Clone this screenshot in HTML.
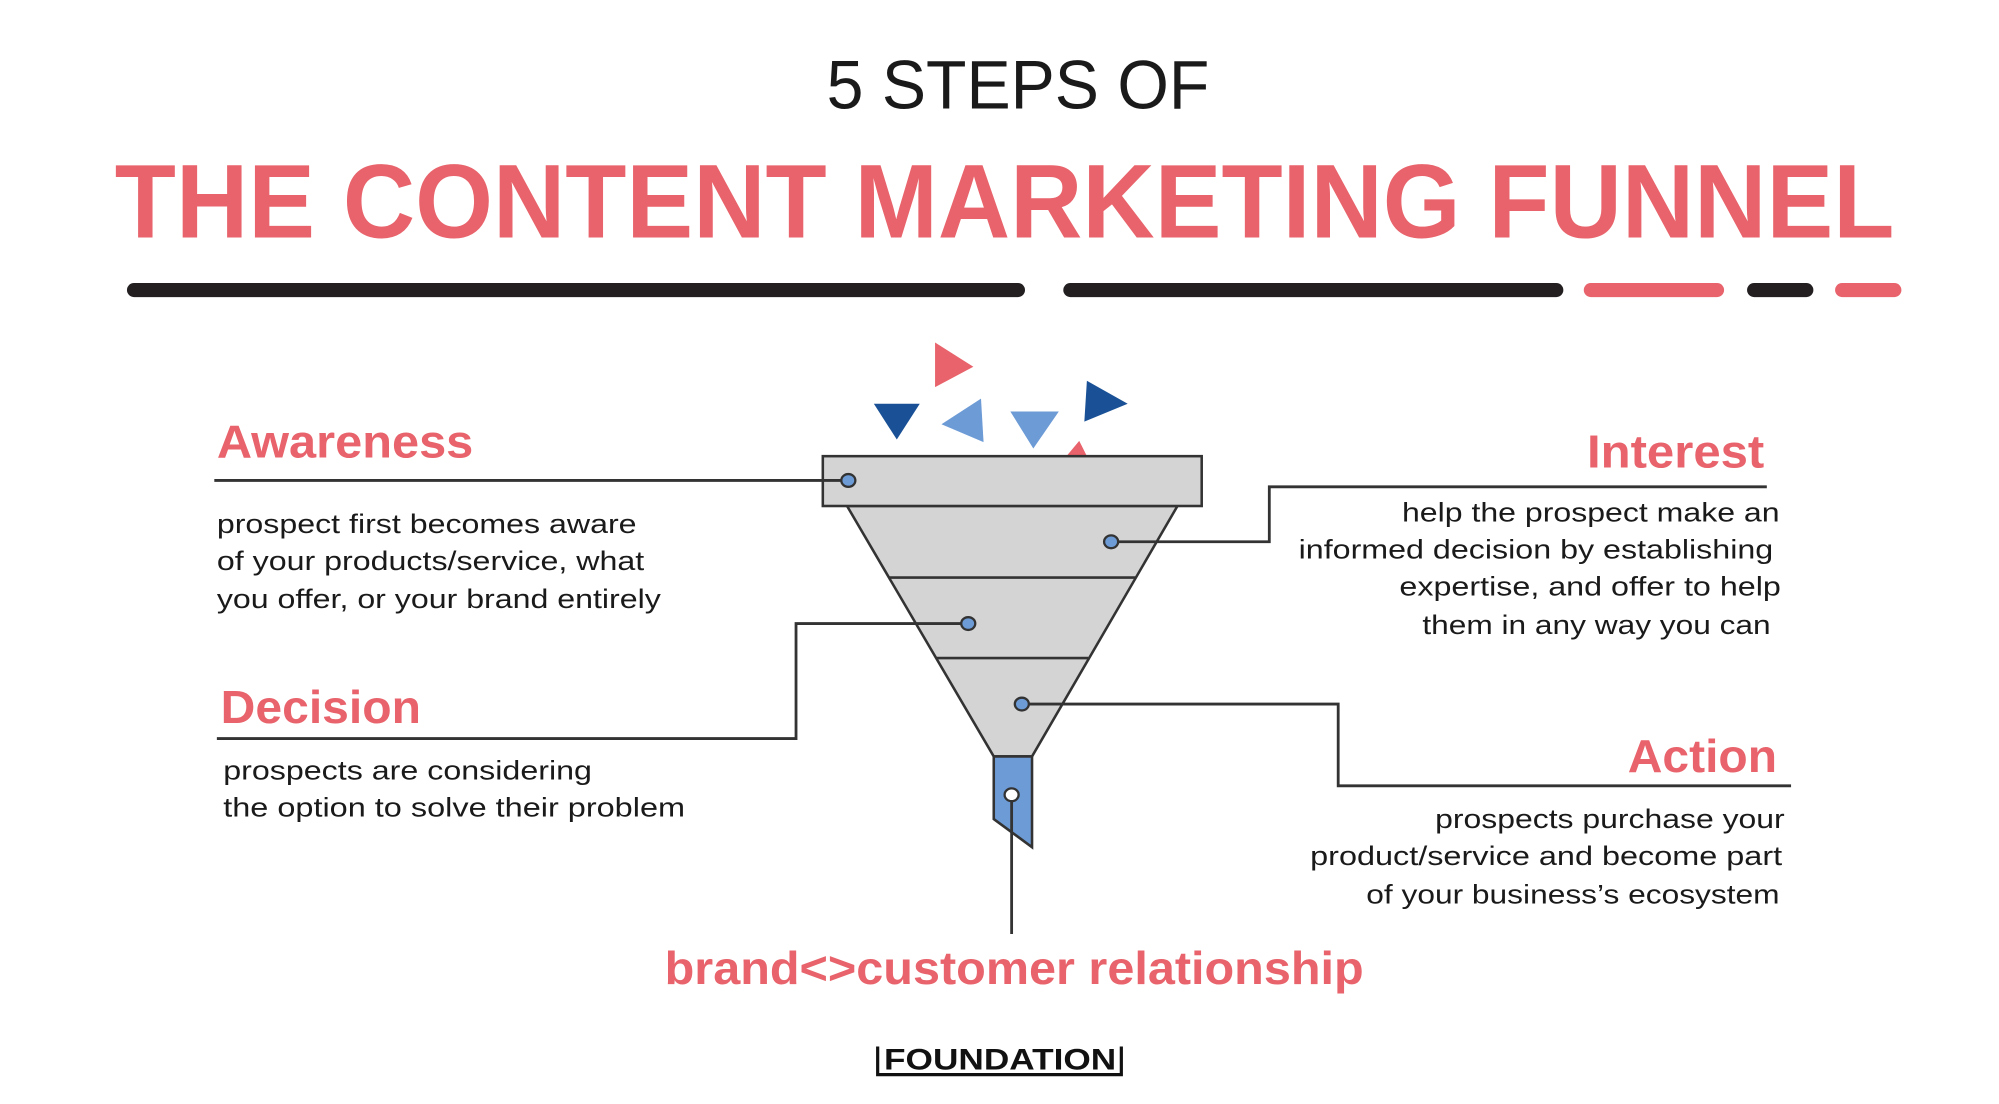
<!DOCTYPE html>
<html><head><meta charset="utf-8"><style>
html,body{margin:0;padding:0;background:#fff;}
svg{display:block;}
text{font-family:"Liberation Sans",sans-serif;}
.h{fill:#e8636b;font-weight:bold;font-size:36px;}
.d{fill:#1a1a1a;font-size:21px;}
</style></head><body>
<svg width="1999" height="1104" viewBox="0 0 1567 864" preserveAspectRatio="none" xmlns="http://www.w3.org/2000/svg">
<rect width="1567" height="864" fill="#fff"/>
<text x="798" y="85" text-anchor="middle" font-size="54" fill="#1a1a1a" textLength="300" lengthAdjust="spacingAndGlyphs">5 STEPS OF</text>
<text x="90" y="186" font-size="82" font-weight="bold" fill="#e8636b" textLength="1395" lengthAdjust="spacingAndGlyphs">THE CONTENT MARKETING FUNNEL</text>
<g stroke-linecap="round" stroke-width="11">
<line x1="105" y1="227" x2="798" y2="227" stroke="#231f20"/>
<line x1="839" y1="227" x2="1220" y2="227" stroke="#231f20"/>
<line x1="1247" y1="227" x2="1346" y2="227" stroke="#e8636b"/>
<line x1="1375" y1="227" x2="1416" y2="227" stroke="#231f20"/>
<line x1="1444" y1="227" x2="1485" y2="227" stroke="#e8636b"/>
</g>
<!-- triangles -->
<polygon points="733,268 733,303 763,287" fill="#e8636b"/>
<polygon points="685,316 721,316 703,344" fill="#1a5196"/>
<polygon points="738,332 769,312 771,346" fill="#6d9bd6"/>
<polygon points="792,322 830,322 810,351" fill="#6d9bd6"/>
<polygon points="852,298 884,316 850,330" fill="#1a5196"/>
<polygon points="836,357 846,345 852,357" fill="#e8636b"/>
<!-- funnel -->
<polygon points="664,396 923,396 809,592 779,592" fill="#d4d4d4" stroke="#333" stroke-width="2"/>
<rect x="645" y="357" width="297" height="39" fill="#d4d4d4" stroke="#333" stroke-width="2"/>
<line x1="697" y1="452" x2="890" y2="452" stroke="#333" stroke-width="2"/>
<line x1="734" y1="515" x2="853" y2="515" stroke="#333" stroke-width="2"/>
<polygon points="779,592 809,592 809,663 779,641" fill="#6d9bd6" stroke="#333" stroke-width="2"/>
<!-- connectors -->
<g fill="none" stroke="#333" stroke-width="2.2">
<polyline points="168,376 665,376"/>
<polyline points="871,424 995,424 995,381 1385,381"/>
<polyline points="170,578 624,578 624,488 759,488"/>
<polyline points="801,551 1049,551 1049,615 1404,615"/>
<line x1="793" y1="622" x2="793" y2="731"/>
</g>
<g fill="#6d9bd6" stroke="#333" stroke-width="1.8">
<ellipse cx="665" cy="376" rx="5.5" ry="5"/>
<ellipse cx="871" cy="424" rx="5.5" ry="5"/>
<ellipse cx="759" cy="488" rx="5.5" ry="5"/>
<ellipse cx="801" cy="551" rx="5.5" ry="5"/>
<ellipse cx="793" cy="622" rx="5.5" ry="5" fill="#fff"/>
</g>
<!-- Awareness -->
<text class="h" x="170" y="358" textLength="201" lengthAdjust="spacingAndGlyphs">Awareness</text>
<text class="d" x="170" y="417" textLength="329" lengthAdjust="spacingAndGlyphs">prospect first becomes aware</text>
<text class="d" x="170" y="446" textLength="335" lengthAdjust="spacingAndGlyphs">of your products/service, what</text>
<text class="d" x="170" y="476" textLength="348" lengthAdjust="spacingAndGlyphs">you offer, or your brand entirely</text>
<!-- Interest -->
<text class="h" x="1244" y="366" textLength="139" lengthAdjust="spacingAndGlyphs">Interest</text>
<text class="d" x="1099" y="408" textLength="296" lengthAdjust="spacingAndGlyphs">help the prospect make an</text>
<text class="d" x="1018" y="437" textLength="372" lengthAdjust="spacingAndGlyphs">informed decision by establishing</text>
<text class="d" x="1097" y="466" textLength="299" lengthAdjust="spacingAndGlyphs">expertise, and offer to help</text>
<text class="d" x="1115" y="496" textLength="273" lengthAdjust="spacingAndGlyphs">them in any way you can</text>
<!-- Decision -->
<text class="h" x="173" y="566" textLength="157" lengthAdjust="spacingAndGlyphs">Decision</text>
<text class="d" x="175" y="610" textLength="289" lengthAdjust="spacingAndGlyphs">prospects are considering</text>
<text class="d" x="175" y="639" textLength="362" lengthAdjust="spacingAndGlyphs">the option to solve their problem</text>
<!-- Action -->
<text class="h" x="1276" y="604" textLength="117" lengthAdjust="spacingAndGlyphs">Action</text>
<text class="d" x="1125" y="648" textLength="274" lengthAdjust="spacingAndGlyphs">prospects purchase your</text>
<text class="d" x="1027" y="677" textLength="370" lengthAdjust="spacingAndGlyphs">product/service and become part</text>
<text class="d" x="1071" y="707" textLength="324" lengthAdjust="spacingAndGlyphs">of your business’s ecosystem</text>
<!-- bottom -->
<text class="h" x="521" y="770" textLength="548" lengthAdjust="spacingAndGlyphs">brand&lt;&gt;customer relationship</text>
<text x="693" y="837" font-size="23" font-weight="bold" fill="#111" textLength="182" lengthAdjust="spacingAndGlyphs">FOUNDATION</text>
<polyline points="688,819 688,841 879,841 879,819" fill="none" stroke="#111" stroke-width="2.5"/>
</svg>
</body></html>
